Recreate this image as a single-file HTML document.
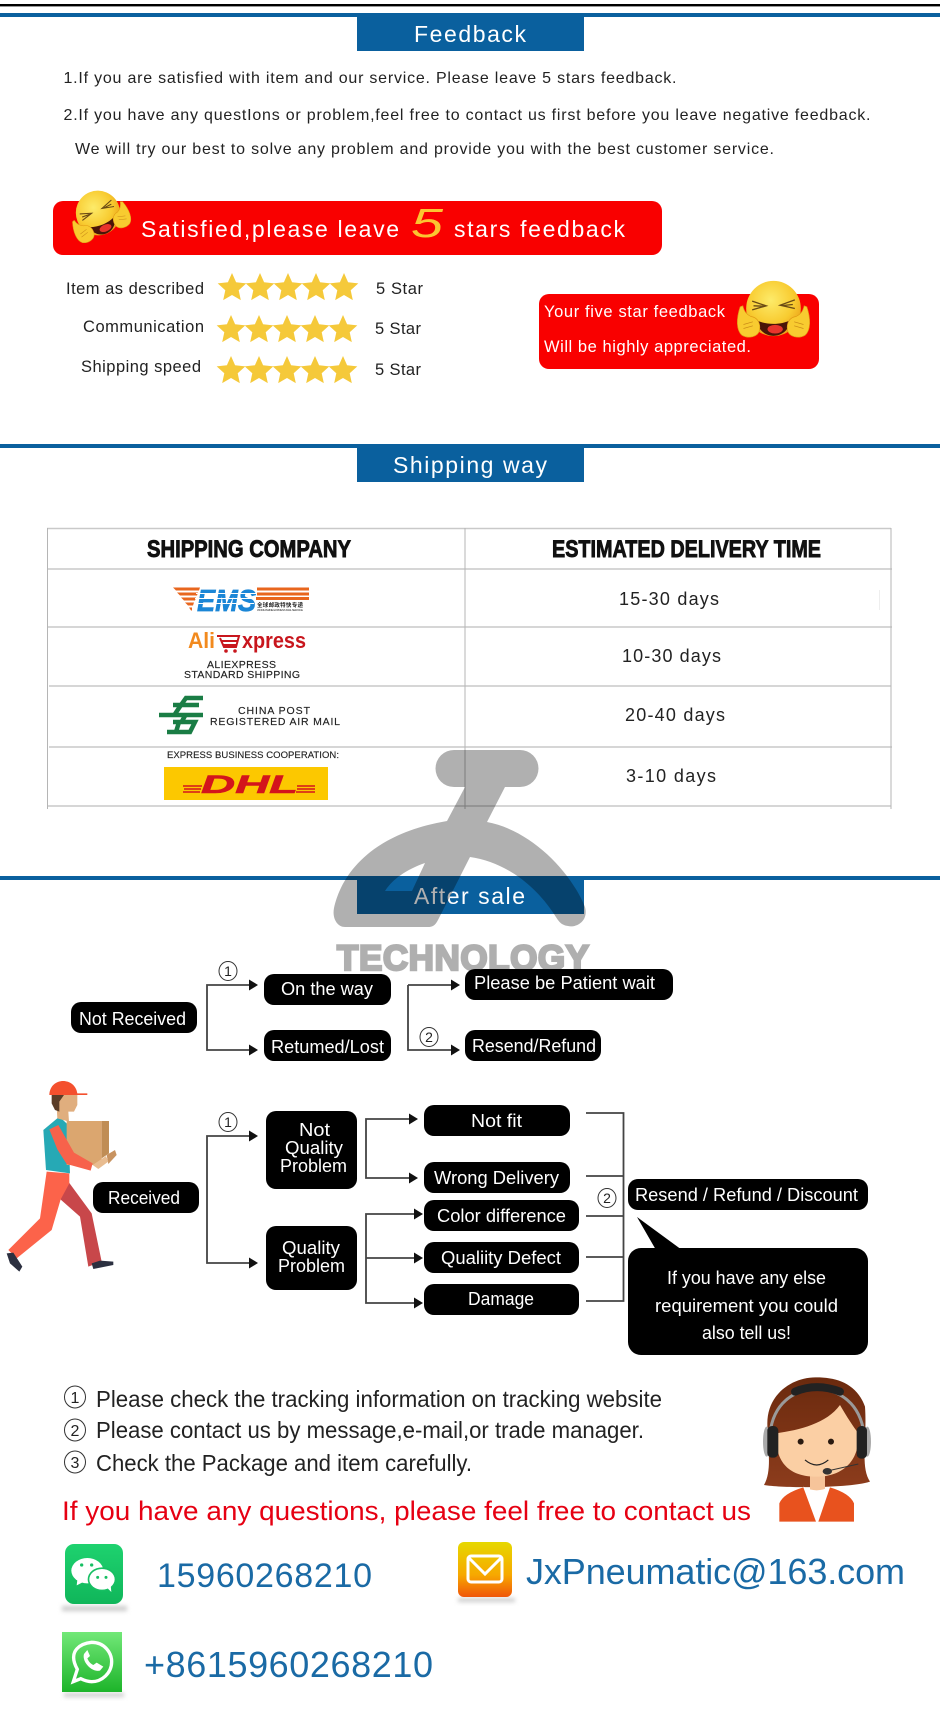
<!DOCTYPE html>
<html lang="en">
<head>
<meta charset="utf-8">
<title>Feedback, Shipping way and After sale</title>
<style>
html,body{margin:0;padding:0;background:#fff;width:940px;height:1713px;overflow:hidden}
svg{display:block}
text{font-family:"Liberation Sans","Noto Sans CJK SC",sans-serif}
.h{font-size:23px;fill:#fff}
.b{font-size:16px;fill:#222}
.r{font-size:16.5px;fill:#222}
.w{font-size:16.5px;fill:#fff}
.n{font-size:18.500px;fill:#fff}
.d{font-size:18px;fill:#222}
.l{font-size:23px;fill:#222}
.c{font-size:14px;fill:#222;text-anchor:middle}
.t{font-size:10.5px;fill:#222;stroke:#222;stroke-width:.15}
.bl{fill:#1a6aa5}
.ln{stroke:#444;stroke-width:1.8;fill:none}
.g{stroke:#c9c9c9;stroke-width:1.5;fill:none}
.v{stroke:#b5b5b5;stroke-width:1;fill:none}
</style>
</head>
<body>
<svg xmlns="http://www.w3.org/2000/svg" width="940" height="1713" viewBox="0 0 940 1713">
<defs>
<path id="ah" d="M0,-5.500 L9,0 L0,5.500Z" fill="#111"/>
<polygon id="st" points="0,-15 4.100,-5.700 14.300,-4.600 6.700,2.200 8.800,12.100 0,7 -8.800,12.100 -6.700,2.200 -14.300,-4.600 -4.100,-5.700" fill="#f5c93a"/>
<radialGradient id="fc" cx=".45" cy=".35" r=".7"><stop offset="0" stop-color="#fdeb6a"/><stop offset=".6" stop-color="#f8cb30"/><stop offset="1" stop-color="#e89a14"/></radialGradient>
<linearGradient id="wc" x1="0" y1="0" x2="0" y2="1"><stop offset="0" stop-color="#1ed26f"/><stop offset="1" stop-color="#10b65a"/></linearGradient>
<linearGradient id="wa" x1="0" y1="0" x2="0" y2="1"><stop offset="0" stop-color="#72e878"/><stop offset="1" stop-color="#1db42a"/></linearGradient>
<linearGradient id="em" x1="0" y1="0" x2="0" y2="1"><stop offset="0" stop-color="#e6d800"/><stop offset=".6" stop-color="#f7a800"/><stop offset="1" stop-color="#f0560a"/></linearGradient>
<linearGradient id="hr" x1="0" y1="0" x2="0" y2="1"><stop offset="0" stop-color="#6b2a0e"/><stop offset="1" stop-color="#8c3c1c"/></linearGradient>
<filter id="sh" x="-20%" y="-100%" width="140%" height="300%"><feGaussianBlur stdDeviation="2"/></filter>
<g id="emoji">
<ellipse cx="0" cy="0" rx="82" ry="83" fill="url(#fc)"/>
<path d="M-53,35 C-20,50 20,50 52,35 C45,70 20,82 0,82 C-25,82 -45,65 -53,35Z" fill="#4a1408"/>
<ellipse cx="5" cy="62" rx="23" ry="13" fill="#e8342c"/>
<path d="M-64,-22 L-22,-8 L-64,4 M-60,-8 L-30,-7 M64,-26 L20,-10 L64,0 M58,-12 L28,-9" stroke="#6a4a14" stroke-width="4" fill="none"/>
<path d="M-100,-5 L-92,-8 C-88,10 -80,18 -68,24 C-48,26 -38,45 -42,65 C-46,85 -75,92 -95,80 C-112,65 -112,30 -100,-5Z" fill="#f8cb30" stroke="#e09a14" stroke-width="2"/>
<path d="M100,-5 L92,-8 C88,10 80,18 68,24 C48,26 38,45 42,65 C46,85 75,92 95,80 C112,65 112,30 100,-5Z" fill="#f8cb30" stroke="#e09a14" stroke-width="2"/>
<path d="M-90,48 L-62,40 M-90,60 L-62,52 M90,48 L62,40 M90,60 L62,52" stroke="#c98a18" stroke-width="2" fill="none"/>
</g>
</defs>

<!-- top -->
<rect x="0" y="4" width="940" height="2.4" fill="#000"/>
<rect x="0" y="13" width="940" height="4" fill="#0a609e"/>
<rect x="357" y="16" width="227" height="35" fill="#0a609e"/>
<text class="h" x="414" y="42" textLength="112">Feedback</text>
<text class="b" x="63.500" y="83" textLength="613">1.If you are satisfied with item and our service. Please leave 5 stars feedback.</text>
<text class="b" x="63.500" y="120" textLength="807">2.If you have any questIons or problem,feel free to contact us first before you leave negative feedback.</text>
<text class="b" x="75" y="154" textLength="699">We will try our best to solve any problem and provide you with the best customer service.</text>

<rect x="53" y="201" width="609" height="54" rx="10" fill="#f90000"/>
<text class="h" x="141" y="237" textLength="258">Satisfied,please leave</text>
<text x="411" y="237" font-size="41" font-style="italic" fill="#fbc531" textLength="32" lengthAdjust="spacingAndGlyphs">5</text>
<text class="h" x="454" y="237" textLength="171">stars feedback</text>
<use href="#emoji" transform="translate(98,213) rotate(-22) scale(.27)"/>

<text class="r" x="66" y="294" textLength="138">Item as described</text>
<text class="r" x="83" y="332" textLength="121">Communication</text>
<text class="r" x="81" y="372" textLength="120">Shipping speed</text>
<g>
<use href="#st" x="232" y="288"/><use href="#st" x="260" y="288"/><use href="#st" x="288" y="288"/><use href="#st" x="316" y="288"/><use href="#st" x="344" y="288"/>
<use href="#st" x="231" y="330"/><use href="#st" x="259" y="330"/><use href="#st" x="287" y="330"/><use href="#st" x="315" y="330"/><use href="#st" x="343" y="330"/>
<use href="#st" x="231" y="371"/><use href="#st" x="259" y="371"/><use href="#st" x="287" y="371"/><use href="#st" x="315" y="371"/><use href="#st" x="343" y="371"/>
</g>
<text class="r" x="376" y="294" textLength="47">5 Star</text>
<text class="r" x="375" y="334" textLength="46">5 Star</text>
<text class="r" x="375" y="375" textLength="46">5 Star</text>

<rect x="539" y="294" width="280" height="75" rx="10" fill="#f90000"/>
<text class="w" x="544" y="317" textLength="181">Your five star feedback</text>
<text class="w" x="544" y="352" textLength="207">Will be highly appreciated.</text>
<use href="#emoji" transform="translate(773.500,308.500) scale(.3333)"/>

<!-- shipping -->
<rect x="0" y="444" width="940" height="4" fill="#0a609e"/>
<rect x="357" y="447" width="227" height="35" fill="#0a609e"/>
<text class="h" x="393" y="473" textLength="154">Shipping way</text>

<path class="g" d="M47,528.500 H891 M47,569 H892 M47,627 H892 M49,686 H891 M49,747 H892 M47,806 H891"/>
<path class="v" d="M47.500,528 V809 M465,528 V809 M891,528 V809"/>
<path d="M879.500,590 V610" stroke="#eee" stroke-width="1"/>
<rect x="155" y="748" width="196" height="14" fill="#fff"/>

<text x="147" y="557" font-size="24.500" font-weight="bold" fill="#111" stroke="#111" stroke-width=".9" textLength="204" lengthAdjust="spacingAndGlyphs">SHIPPING COMPANY</text>
<text x="552" y="557" font-size="24.500" font-weight="bold" fill="#111" stroke="#111" stroke-width=".9" textLength="269" lengthAdjust="spacingAndGlyphs">ESTIMATED DELIVERY TIME</text>
<text class="d" x="619" y="605" textLength="100">15-30 days</text>
<text class="d" x="622" y="662" textLength="99">10-30 days</text>
<text class="d" x="625" y="721" textLength="100">20-40 days</text>
<text class="d" x="626" y="782" textLength="90">3-10 days</text>

<!-- EMS logo -->
<g fill="#e8661e">
<polygon points="173,587.500 200,587.500 199,590.500 176,590.500"/>
<polygon points="177,592.500 198,592.500 197,595.500 180,595.500"/>
<polygon points="181,597.500 196,597.500 195,600.500 184,600.500"/>
<polygon points="185,602.500 194,602.500 193,605.500 188,605.500"/>
<polygon points="189,607.500 192,607.500 192,610.500 191,610.500"/>
<rect x="257" y="587.500" width="52" height="3"/><rect x="257" y="592.500" width="52" height="3"/><rect x="256" y="597" width="53" height="3"/>
</g>
<text x="197" y="611" font-size="31" font-weight="bold" font-style="italic" fill="#1b86d6" stroke="#1b86d6" stroke-width=".7" textLength="59" lengthAdjust="spacingAndGlyphs">EMS</text>
<path d="M196,593.500 H256 M195,598.500 H255 M194,603.500 H254" stroke="#fff" stroke-width="1"/>
<text x="257" y="607" font-size="5.500" font-weight="bold" fill="#222" textLength="46">全球邮政特快专递</text>
<text x="257" y="611" font-size="3" fill="#333" textLength="46">WORLDWIDE EXPRESS MAIL SERVICE</text>

<!-- AliExpress logo -->
<text x="188" y="648" font-size="22" font-weight="bold" fill="#f28a1e" textLength="27" lengthAdjust="spacingAndGlyphs">Ali</text>
<text x="242" y="648" font-size="22" font-weight="bold" fill="#c8161d" textLength="64" lengthAdjust="spacingAndGlyphs">xpress</text>
<path d="M217,636 L239,636 L236,647 H224 L220,638 M222,641 H238 M223,645 H237" stroke="#c8161d" stroke-width="2" fill="none"/>
<circle cx="226" cy="651" r="1.800" fill="#c8161d"/><circle cx="235" cy="651" r="1.800" fill="#c8161d"/>
<text class="t" x="207" y="668" textLength="69">ALIEXPRESS</text>
<text class="t" x="184" y="678" textLength="116">STANDARD SHIPPING</text>

<!-- China Post logo -->
<g stroke="#1a7d45" stroke-width="4.500" fill="none">
<path d="M203,698 H186 L181,705 H199"/>
<path d="M173,705 H181 L175,714"/>
<path d="M159,715 H203"/>
<path d="M173,722 H195 L190,732 H167"/>
<path d="M186,714 L181,723 M179,722 L176,732"/>
</g>
<text class="t" x="238" y="714" textLength="72">CHINA POST</text>
<text class="t" x="210" y="725" textLength="130">REGISTERED AIR MAIL</text>

<!-- DHL logo -->
<text x="167" y="758" font-size="9.500" fill="#222" stroke="#222" stroke-width=".15" textLength="172">EXPRESS BUSINESS COOPERATION:</text>
<rect x="164" y="767" width="164" height="33" fill="#fcc800"/>
<text x="201" y="793" font-size="25" font-weight="bold" font-style="italic" fill="#d3141c" stroke="#d3141c" stroke-width=".6" textLength="97" lengthAdjust="spacingAndGlyphs">DHL</text>
<path d="M183,786 H202 M184,789 H201 M183,792 H200 M297,786 H315 M297,789 H315 M296,792 H315" stroke="#d3141c" stroke-width="1.500"/>

<!-- after sale -->
<rect x="0" y="876" width="940" height="4" fill="#0a609e"/>
<rect x="357" y="879" width="227" height="35" fill="#0a609e"/>
<text class="h" x="414" y="904" textLength="111">After sale</text>

<!-- flow row 1 -->
<path class="ln" d="M249,985 H207 V1050 H249 M408,985 V1050 H451 M451,985 H408"/>
<use href="#ah" x="249" y="985"/><use href="#ah" x="249" y="1050"/><use href="#ah" x="451" y="985"/><use href="#ah" x="451" y="1050"/>
<ellipse cx="228" cy="971" rx="9" ry="9.500" fill="#fff" stroke="#333"/><text class="c" x="228" y="976">1</text>
<ellipse cx="429" cy="1037" rx="9" ry="9.500" fill="#fff" stroke="#333"/><text class="c" x="429" y="1042">2</text>
<g fill="#000">
<rect x="71" y="1002" width="126" height="31" rx="10"/>
<rect x="264" y="974" width="127" height="31" rx="10"/>
<rect x="264" y="1030" width="127" height="31" rx="10"/>
<rect x="465" y="969" width="208" height="31" rx="10"/>
<rect x="465" y="1030" width="136" height="31" rx="10"/>
</g>
<text class="n" x="79" y="1025" textLength="107" lengthAdjust="spacingAndGlyphs">Not Received</text>
<text class="n" x="281" y="995" textLength="92" lengthAdjust="spacingAndGlyphs">On the way</text>
<text class="n" x="271" y="1053" textLength="113" lengthAdjust="spacingAndGlyphs">Retumed/Lost</text>
<text class="n" x="474" y="989" textLength="181" lengthAdjust="spacingAndGlyphs">Please be Patient wait</text>
<text class="n" x="472" y="1052" textLength="124" lengthAdjust="spacingAndGlyphs">Resend/Refund</text>

<!-- flow row 2 -->
<path class="ln" d="M249,1136 H207 V1263 H249 M409,1119 H366 V1178 H409 M414,1214 H366 V1303 H414 M366,1258 H414 M586,1113 H623.500 V1301 H586 M586,1176 H623.500 M586,1216 H623.500 M586,1257 H623.500"/>
<use href="#ah" x="249" y="1136"/><use href="#ah" x="249" y="1263"/><use href="#ah" x="409" y="1119"/><use href="#ah" x="409" y="1178"/><use href="#ah" x="414" y="1214"/><use href="#ah" x="414" y="1258"/><use href="#ah" x="414" y="1303"/>
<ellipse cx="228" cy="1122" rx="9" ry="9.500" fill="#fff" stroke="#333"/><text class="c" x="228" y="1127">1</text>
<ellipse cx="607" cy="1198" rx="9" ry="9.500" fill="#fff" stroke="#333"/><text class="c" x="607" y="1203">2</text>
<g fill="#000">
<rect x="93" y="1182" width="106" height="31" rx="10"/>
<rect x="266" y="1111" width="91" height="78" rx="10"/>
<rect x="266" y="1226" width="91" height="64" rx="10"/>
<rect x="424" y="1105" width="146" height="31" rx="10"/>
<rect x="424" y="1162" width="146" height="31" rx="10"/>
<rect x="424" y="1200" width="155" height="31" rx="10"/>
<rect x="424" y="1242" width="155" height="31" rx="10"/>
<rect x="424" y="1284" width="155" height="31" rx="10"/>
<rect x="628" y="1179" width="240" height="31" rx="10"/>
<rect x="628" y="1248" width="240" height="107" rx="13"/>
<polygon points="637,1217 656,1250 682,1250"/>
</g>
<text class="n" x="108" y="1204" textLength="72" lengthAdjust="spacingAndGlyphs">Received</text>
<text class="n" x="299" y="1136" textLength="31" lengthAdjust="spacingAndGlyphs">Not</text>
<text class="n" x="285" y="1154" textLength="58" lengthAdjust="spacingAndGlyphs">Quality</text>
<text class="n" x="280" y="1172" textLength="67" lengthAdjust="spacingAndGlyphs">Problem</text>
<text class="n" x="282" y="1254" textLength="58" lengthAdjust="spacingAndGlyphs">Quality</text>
<text class="n" x="278" y="1272" textLength="67" lengthAdjust="spacingAndGlyphs">Problem</text>
<text class="n" x="471" y="1127" textLength="51" lengthAdjust="spacingAndGlyphs">Not fit</text>
<text class="n" x="434" y="1184" textLength="125" lengthAdjust="spacingAndGlyphs">Wrong Delivery</text>
<text class="n" x="437" y="1222" textLength="129" lengthAdjust="spacingAndGlyphs">Color difference</text>
<text class="n" x="441" y="1264" textLength="120" lengthAdjust="spacingAndGlyphs">Qualiity Defect</text>
<text class="n" x="468" y="1305" textLength="66" lengthAdjust="spacingAndGlyphs">Damage</text>
<text class="n" x="635" y="1201" textLength="223" lengthAdjust="spacingAndGlyphs">Resend / Refund / Discount</text>
<text class="n" x="667" y="1284" textLength="159" lengthAdjust="spacingAndGlyphs">If you have any else</text>
<text class="n" x="655" y="1312" textLength="183" lengthAdjust="spacingAndGlyphs">requirement you could</text>
<text class="n" x="702" y="1339" textLength="89" lengthAdjust="spacingAndGlyphs">also tell us!</text>

<!-- delivery man -->
<g transform="translate(0,1070) scale(.3333)">
<polygon points="205,335 275,430 305,575 265,590 240,440 178,385" fill="#c8474a"/>
<polygon points="140,305 208,310 208,340 182,388 155,480 50,565 25,540 120,445" fill="#fc634a"/>
<polygon points="20,550 40,548 67,590 58,605 30,580" fill="#2c3040"/>
<polygon points="275,580 300,572 340,575 340,585 280,597" fill="#2c3040"/>
<polygon points="130,180 178,140 205,165 210,310 138,300" fill="#26a9b5"/>
<polygon points="168,75 232,75 232,105 222,125 205,125 207,155 172,145 170,110" fill="#e0ae7e"/>
<polygon points="155,75 192,75 178,95 178,125 165,120 155,100" fill="#5a3d28"/>
<path d="M148,75 C150,20 225,20 232,70 L262,70 V75Z" fill="#f4502e"/>
<polygon points="200,153 305,153 305,285 200,285" fill="#dba66f"/>
<polygon points="305,153 327,153 327,250 305,265" fill="#c08d55"/>
<polygon points="320,255 345,240 350,255 325,282" fill="#c89360"/>
<polygon points="278,285 318,258 325,275 295,297" fill="#e8bc90"/>
<polygon points="148,178 175,165 222,248 278,280 272,302 200,282 172,238" fill="#f7624b"/>
</g>

<!-- legend -->
<ellipse cx="75" cy="1397" rx="10.500" ry="11" fill="#fff" stroke="#333"/><text class="c" x="75" y="1403" style="font-size:16px">1</text>
<ellipse cx="75" cy="1430" rx="10.500" ry="11" fill="#fff" stroke="#333"/><text class="c" x="75" y="1436" style="font-size:16px">2</text>
<ellipse cx="75" cy="1462" rx="10.500" ry="11" fill="#fff" stroke="#333"/><text class="c" x="75" y="1468" style="font-size:16px">3</text>
<text class="l" x="96" y="1407" textLength="566" lengthAdjust="spacingAndGlyphs">Please check the tracking information on tracking website</text>
<text class="l" x="96" y="1438" textLength="548" lengthAdjust="spacingAndGlyphs">Please contact us by message,e-mail,or trade manager.</text>
<text class="l" x="96" y="1471" textLength="376" lengthAdjust="spacingAndGlyphs">Check the Package and item carefully.</text>
<text x="62" y="1520" font-size="27" fill="#e60012" textLength="689" lengthAdjust="spacingAndGlyphs">If you have any questions, please feel free to contact us</text>

<!-- agent -->
<g transform="translate(750,1370) scale(.3333)">
<path d="M42,345 C68,300 52,230 52,160 C52,70 130,20 200,22 C260,22 320,40 345,110 C352,210 330,290 360,335 C300,355 100,355 42,345Z" fill="url(#hr)"/>
<rect x="180" y="310" width="45" height="55" fill="#f6c49a"/>
<path d="M88,455 V400 Q100,370 160,352 L198,455Z M205,455 L240,352 Q300,370 312,400 V455Z" fill="#e8521e"/>
<path d="M160,350 L200,455 L240,350 Q200,372 160,350Z" fill="#fff"/>
<path d="M78,190 C150,180 230,160 270,105 C290,140 310,170 325,190 C330,280 270,320 200,320 C120,320 75,280 78,190Z" fill="#fbcfa4"/>
<path d="M60,190 C70,100 130,60 200,55 C270,60 330,100 342,190" stroke="#9a9a9a" stroke-width="9" fill="none"/>
<path d="M135,65 Q200,38 270,65" stroke="#222" stroke-width="24" stroke-linecap="round" fill="none"/>
<ellipse cx="50" cy="215" rx="11" ry="45" fill="#aaa"/><ellipse cx="352" cy="215" rx="11" ry="45" fill="#aaa"/>
<rect x="52" y="168" width="33" height="95" rx="14" fill="#222"/><rect x="320" y="168" width="31" height="98" rx="14" fill="#222"/>
<circle cx="152" cy="215" r="9" fill="#2a1a10"/><circle cx="243" cy="215" r="9" fill="#2a1a10"/>
<path d="M165,270 Q200,300 235,270" stroke="#222" stroke-width="3.500" fill="none"/>
<path d="M232,303 L325,282" stroke="#333" stroke-width="3" fill="none"/>
<ellipse cx="232" cy="304" rx="14" ry="10" fill="#333"/>
</g>

<!-- contact icons -->
<rect x="62" y="1606" width="65" height="5" fill="#ccc" filter="url(#sh)"/>
<rect x="65" y="1544" width="58" height="60" rx="9" fill="url(#wc)"/>
<g transform="translate(50,1530) scale(.3333)">
<ellipse cx="112" cy="122" rx="48" ry="38" fill="#fff"/><polygon points="82,150 80,166 102,155" fill="#fff"/>
<ellipse cx="156" cy="148" rx="43" ry="36" fill="#17bf63"/><ellipse cx="156" cy="148" rx="38" ry="31" fill="#fff"/><polygon points="170,172 184,186 182,165" fill="#fff"/>
<circle cx="95" cy="105" r="5" fill="#17bf63"/><circle cx="125" cy="105" r="5" fill="#17bf63"/><circle cx="143" cy="142" r="4.500" fill="#17bf63"/><circle cx="168" cy="142" r="4.500" fill="#17bf63"/>
</g>
<text class="bl" x="157" y="1587" font-size="34" textLength="215">15960268210</text>

<rect x="458" y="1598" width="57" height="4" fill="#ccc" filter="url(#sh)"/>
<rect x="458" y="1542" width="54" height="55" rx="6" fill="url(#em)"/>
<rect x="468" y="1556" width="34" height="26" rx="3" fill="none" stroke="#fff" stroke-width="3"/>
<path d="M469,1558 L485,1574 L501,1558" fill="none" stroke="#fff" stroke-width="3"/>
<text class="bl" x="526" y="1584" font-size="36" textLength="379">JxPneumatic@163.com</text>

<rect x="64" y="1693" width="60" height="4" fill="#ccc" filter="url(#sh)"/>
<rect x="62" y="1632" width="60" height="60" fill="url(#wa)"/>
<g transform="translate(50,1530) scale(.3333)" fill="none" stroke="#fff">
<path d="M70,455 L82,418 C50,360 95,340 125,337 C165,337 185,370 185,395 C185,430 155,455 125,455 C110,455 100,450 92,446Z" stroke-width="10"/>
<path d="M102,372 C95,395 125,428 150,422 L160,410 L140,398 L130,405 C120,400 115,392 112,385 L120,378 L112,360Z" fill="#fff" stroke="none"/>
</g>
<text class="bl" x="144" y="1677" font-size="36" textLength="289">+8615960268210</text>

<!-- watermark -->
<path d="M334,908 C340,880 365,835 447,821 L465,787 H454 A18,18 0 0 1 454,750 H520 A18,18 0 0 1 520,787 H505 L487,822 C530,830 570,870 585,907 C589,922 575,928 568,926 C560,925 558,920 554,914 C535,885 505,862 470,857 L438,920 C435,926 432,927 428,927 H345 C337,927 332,918 334,908Z M425,863 L412,891 H385 C392,880 405,870 425,863Z" fill="#000" fill-opacity=".31" fill-rule="evenodd"/>
<text x="337" y="970" font-size="35" font-weight="bold" fill="#000" opacity=".31" stroke="#000" stroke-width="2.400" textLength="252">TECHNOLOGY</text>
</svg>
</body>
</html>
